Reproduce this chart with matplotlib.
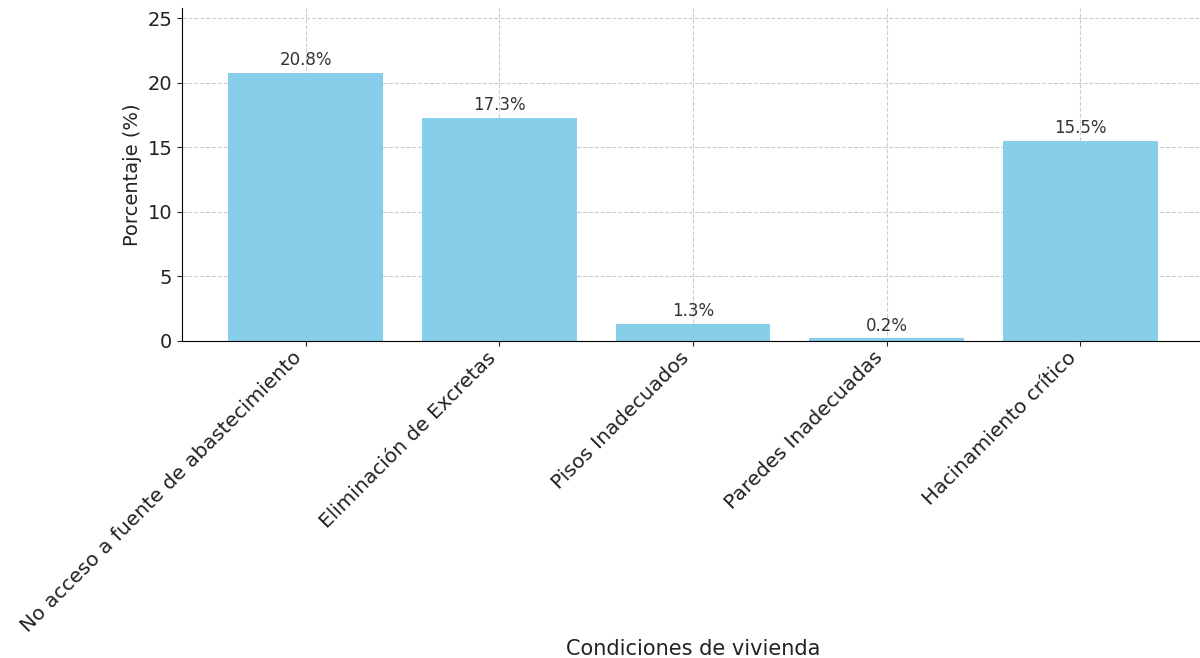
import matplotlib.pyplot as plt

categories = [
    "No acceso a fuente de abastecimiento",
    "Eliminación de Excretas",
    "Pisos Inadecuados",
    "Paredes Inadecuadas",
    "Hacinamiento crítico",
]
values = [20.8, 17.3, 1.3, 0.2, 15.5]

fig = plt.figure(figsize=(12, 6.58), dpi=100)
ax = fig.add_axes([182 / 1200, 317 / 658, 1022 / 1200, 333 / 658])

bars = ax.bar(categories, values, color="skyblue", width=0.8, zorder=2)
for bar, v in zip(bars, values):
    ax.text(bar.get_x() + bar.get_width() / 2, v + 0.3, f"{v}%",
            ha="center", va="bottom", fontsize=12, color="#333333")

ax.set_ylim(0, 25.8)
ax.set_ylabel("Porcentaje (%)", fontsize=14, color="#222222")
ax.set_xlabel("Condiciones de vivienda", fontsize=15, color="#222222")
ax.xaxis.set_label_coords(0.5, -0.895)
ax.tick_params(axis="y", labelsize=14, colors="#222222")
ax.tick_params(axis="x", labelsize=14.5, colors="#222222", pad=1.5)
plt.setp(ax.get_xticklabels(), rotation=45, ha="right")
ax.grid(True, linestyle="--", color="#cccccc", linewidth=0.8, zorder=0)
ax.set_axisbelow(True)
ax.spines["top"].set_visible(False)
ax.spines["right"].set_visible(False)

fig.savefig("out.png", dpi=100)
